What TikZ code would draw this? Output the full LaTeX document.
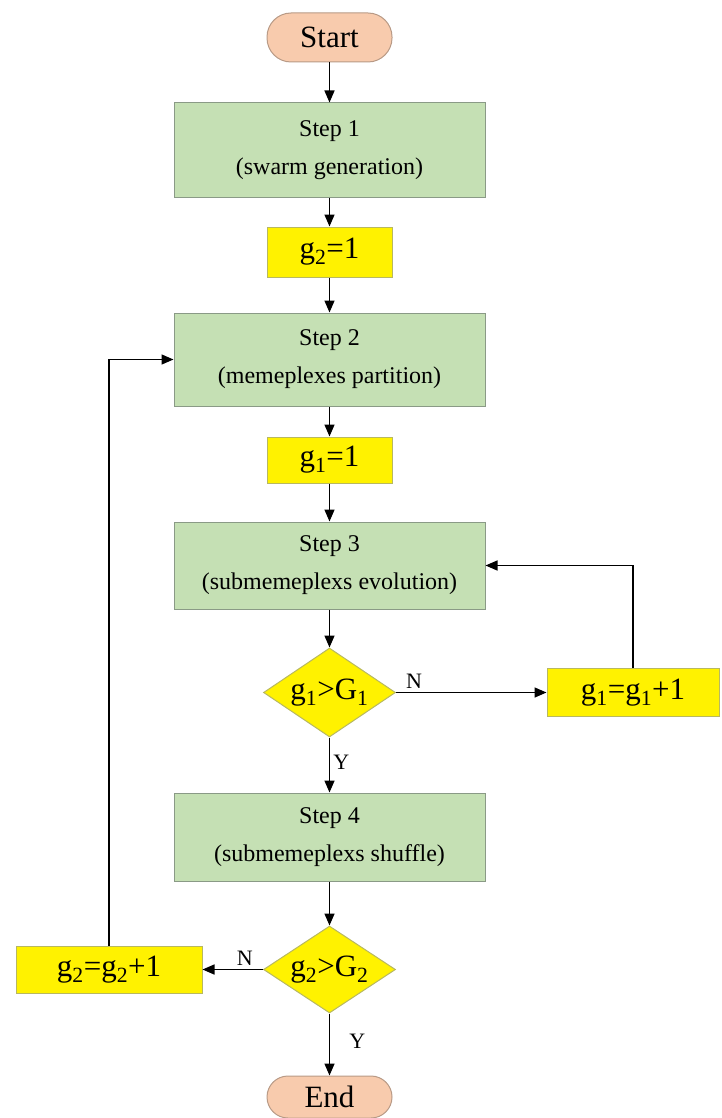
\documentclass[tikz,border=0pt]{standalone}
\usepackage{fontspec}
\setmainfont{Liberation Serif}
\usetikzlibrary{shapes.geometric,arrows.meta}

\definecolor{stepgreen}{HTML}{C5E0B4}
\definecolor{stepline}{HTML}{8A9A86}
\definecolor{termfill}{HTML}{F8CBAD}
\definecolor{termline}{HTML}{B89A86}
\definecolor{countline}{HTML}{B8B860}

\tikzset{
  stepbox/.style={draw=stepline,fill=stepgreen,line width=1pt,
    minimum width=311pt,align=center,inner sep=0pt,
    font=\fontsize{24}{38}\selectfont},
  termbox/.style={draw=termline,fill=termfill,line width=1pt,
    rounded corners=21pt,minimum width=125pt,inner sep=0pt,
    font=\fontsize{31}{36}\selectfont},
  countbox/.style={draw=countline,fill=yellow,line width=1pt,
    inner sep=0pt,font=\fontsize{31}{36}\selectfont},
  testbox/.style={diamond,aspect=1.5,draw=countline,fill=yellow,
    line width=1pt,inner sep=0pt,minimum width=132pt,minimum height=89pt,
    font=\fontsize{31}{36}\selectfont},
  flag/.style={font=\fontsize{22}{24}\selectfont,inner sep=3pt}
}

\begin{document}
\begin{tikzpicture}[x=1pt,y=-1pt,line width=1.5pt,
  >={Triangle[length=12pt,width=10pt]}]

\useasboundingbox (0,0) rectangle (721,1118);

\node[termbox,minimum height=49pt,rounded corners=24pt]
(St)
at (329.5,37.5)
{Start};

\node[stepbox,minimum height=94pt]
(S1)
at (329.5,150)
{Step 1\\(swarm generation)};

\node[countbox,minimum width=125pt,minimum height=50pt]
(G2a)
at (329.5,252)
{g\textsubscript{2}=1};

\node[stepbox,minimum height=93pt]
(S2)
at (329.5,359.5)
{Step 2\\(memeplexes partition)};

\node[countbox,minimum width=125pt,minimum height=46pt]
(G1a)
at (329.5,460)
{g\textsubscript{1}=1};

\node[stepbox,minimum height=87pt]
(S3)
at (329.5,565.5)
{Step 3\\(submemeplexs evolution)};

\node[testbox]
(T1)
at (329.5,692.5)
{g\textsubscript{1}>G\textsubscript{1}};

\node[countbox,minimum width=172pt,minimum height=48pt]
(G1b)
at (633,692.5)
{g\textsubscript{1}=g\textsubscript{1}+1};

\node[stepbox,minimum height=88pt]
(S4)
at (329.5,837)
{Step 4\\(submemeplexs shuffle)};

\node[testbox,minimum height=87pt]
(T2)
at (329.5,969.5)
{g\textsubscript{2}>G\textsubscript{2}};

\node[countbox,minimum width=186pt,minimum height=47pt]
(G2b)
at (109,969.5)
{g\textsubscript{2}=g\textsubscript{2}+1};

\node[termbox,minimum height=42pt]
(En)
at (329.5,1097)
{End};

\draw[->] (St) -- (S1);
\draw[->] (S1) -- (G2a);
\draw[->] (G2a) -- (S2);
\draw[->] (S2) -- (G1a);
\draw[->] (G1a) -- (S3);
\draw[->] (S3) -- (T1);
\draw[->] (T1) -- node[flag,right,pos=0.45] {Y} (S4);
\draw[->] (T1.east) -- node[flag,above,pos=0.12] {N} (G1b.west);
\draw[->] (G1b.north) |- (S3.east);
\draw[->] (S4) -- (T2);
\draw[->] (T2) -- node[flag,right,xshift=16pt,pos=0.45] {Y} (En);
\draw[->] (T2.west) -- node[flag,above,pos=0.3] {N} (G2b.east);
\draw[->] (G2b.north) |- (S2.west);

\end{tikzpicture}
\end{document}
